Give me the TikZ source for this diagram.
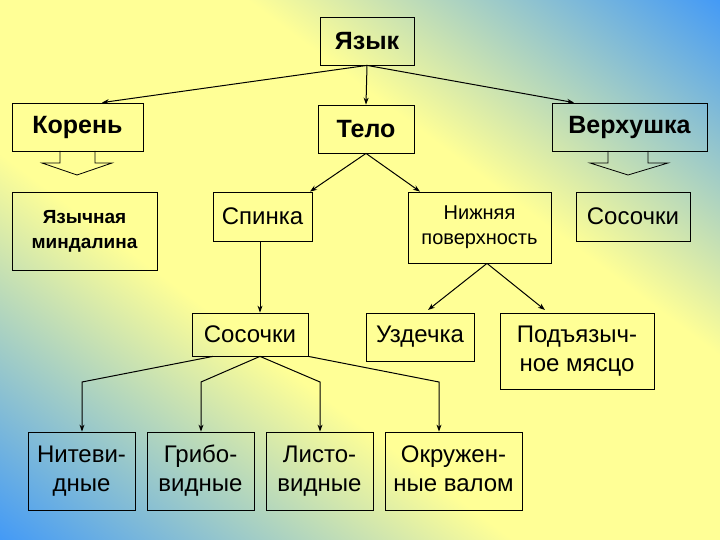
\documentclass[tikz,border=0pt]{standalone}
\usepackage{fontspec}
\setmainfont{Liberation Sans}
\usetikzlibrary{arrows.meta}
\definecolor{bblue}{RGB}{60,150,250}
\definecolor{byel}{RGB}{255,255,150}
\pgfdeclareverticalshading{bgsh}{100bp}{color(0bp)=(bblue); color(14bp)=(bblue); color(40bp)=(byel); color(62bp)=(byel); color(86bp)=(bblue); color(100bp)=(bblue)}
\begin{document}
\begin{tikzpicture}[x=1pt,y=-1pt,
  bx/.style={draw=black,line width=0.8pt,inner sep=1pt,align=center},
  b1/.style={bx,font=\bfseries\fontsize{25}{28}\selectfont},
  b2/.style={bx,font=\fontsize{24}{29}\selectfont},
  con/.style={line width=1pt,-{Stealth[length=7pt,width=5pt]}}]
\useasboundingbox (0,0) rectangle (720,540);
\shade[shading=bgsh,shading angle=-37] (0,0) rectangle (720,540);
\def\bn#1#2#3#4#5#6{\node[#6,minimum width=#3-#1,minimum height=#4-#2] (#5) at ({(#1+#3)/2},{(#2+#4)/2})}
\bn{320}{17}{414}{65}{yaz}{b1} {Язык};
\bn{12}{103}{143}{151}{kor}{b1} {Корень};
\bn{318}{105}{414}{153}{tel}{b1} {Тело};
\bn{552}{103}{707}{151}{ver}{b1} {Верхушка};
\bn{12}{192}{157}{270}{mind}{bx,font=\bfseries\fontsize{19}{25}\selectfont} {\raisebox{14pt}{\begin{tabular}{@{}c@{}}Язычная\\миндалина\end{tabular}}};
\bn{213}{192}{312}{241}{spin}{b2} {Спинка};
\bn{408}{192}{551}{263}{niz}{bx,font=\fontsize{20}{25}\selectfont} {\raisebox{10pt}{\begin{tabular}{@{}c@{}}Нижняя\\поверхность\end{tabular}}};
\bn{576}{192}{690}{241}{sos}{b2} {Сосочки};
\bn{192}{313}{308}{356}{sos2}{b2} {Сосочки};
\bn{366}{313}{474}{361}{uzd}{b2} {Уздечка};
\bn{500}{313}{654}{389}{pod}{b2} {\raisebox{2pt}{\begin{tabular}{@{}c@{}}Подъязыч-\\ное мясцо\end{tabular}}};
\bn{28}{432}{135}{510}{nit}{b2} {\begin{tabular}{@{}c@{}}Нитеви-\\дные\end{tabular}};
\bn{147}{432}{254}{510}{gri}{b2} {\begin{tabular}{@{}c@{}}Грибо-\\видные\end{tabular}};
\bn{266}{432}{373}{510}{lis}{b2} {\begin{tabular}{@{}c@{}}Листо-\\видные\end{tabular}};
\bn{385}{432}{522}{510}{okr}{b2} {\begin{tabular}{@{}c@{}}Окружен-\\ные валом\end{tabular}};
% hollow arrows
\draw[line width=0.8pt] (60,151) -- (60,163) -- (42,163) -- (77,175) -- (112,163) -- (95,163) -- (95,151);
\draw[line width=0.8pt] (608,151) -- (608,163) -- (590,163) -- (628,175) -- (668,163) -- (648,163) -- (648,151);
% connectors
\draw[con] (yaz.south) -- (kor.north-|102,0);
\draw[con] (yaz.south) -- (tel.north);
\draw[con] (yaz.south) -- (ver.north-|574,0);
\draw[con] (tel.south) -- (spin.north-|310,0);
\draw[con] (tel.south) -- (niz.north-|420,0);
\draw[con] (spin.south-|260,0) -- (sos2.north-|260,0);
\draw[con] (niz.south-|487,0) -- (428,310);
\draw[con] (niz.south-|487,0) -- (545,310);
\draw[con] (sos2.south-|213,0) -- (82,382) -- (nit.north-|82,0);
\draw[con] (sos2.south-|260,0) -- (201,382) -- (gri.north-|201,0);
\draw[con] (sos2.south-|260,0) -- (320,382) -- (lis.north-|320,0);
\draw[con] (sos2.south east) -- (439,382) -- (okr.north-|439,0);
\end{tikzpicture}
\end{document}
